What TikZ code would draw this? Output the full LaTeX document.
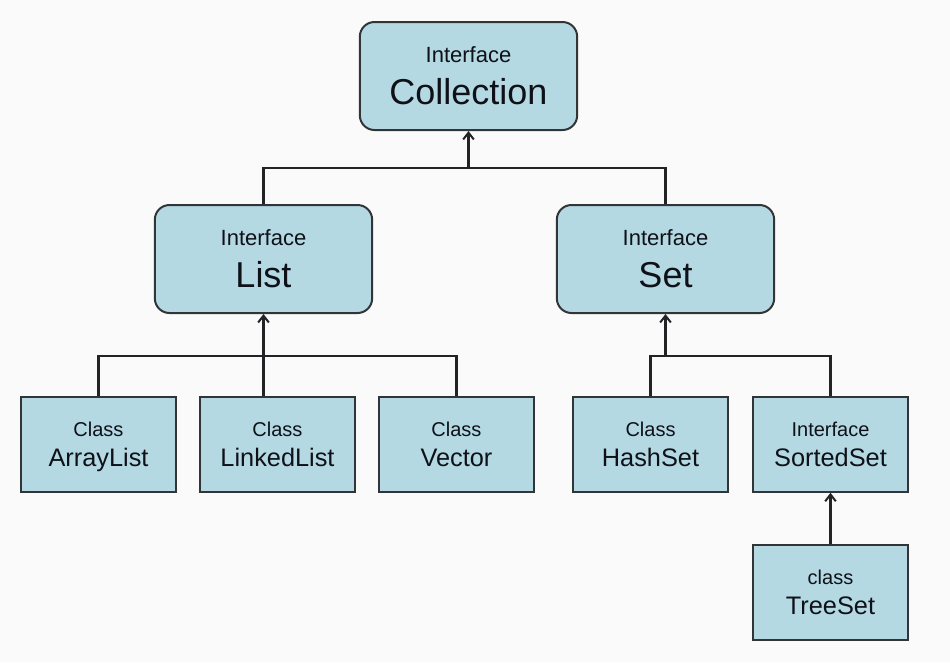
\documentclass[tikz,border=0pt]{standalone}
\usepackage{fontspec}
\setmainfont{Liberation Sans}
\usepackage{xcolor}
\definecolor{boxfill}{RGB}{180,217,226}
\definecolor{boxline}{RGB}{50,52,56}
\definecolor{wire}{RGB}{35,35,38}
\definecolor{pagebg}{RGB}{250,250,250}
\definecolor{txtdark}{RGB}{15,17,25}
\usetikzlibrary{arrows.meta}

\begin{document}
\begin{tikzpicture}[x=0.75pt,y=-0.75pt,
iface/.style={draw=boxline,line width=1.5pt,rounded corners=11pt,fill=boxfill,align=center,minimum width=163pt,minimum height=81pt,text depth=0.5pt,text=txtdark,font=\fontsize{27}{31}\selectfont},
cls/.style={draw=boxline,line width=1.5pt,fill=boxfill,align=center,minimum width=116pt,minimum height=71pt,text depth=0pt,text=txtdark,font=\fontsize{19}{22.5}\selectfont},
link/.style={draw=wire,line width=1.6pt},
arr/.style={-{Straight Barb[length=1.8mm,width=2.8mm,line width=1.5pt]},draw=wire,line width=1.6pt}]
\fill[pagebg] (0,0) rectangle (950,662);
\useasboundingbox (0,0) rectangle (950,662);
\node[iface] (coll) at (468.5,76) {{\fontsize{16.5}{18}\selectfont Interface}\\Collection};
\node[iface] (list) at (263.5,259) {{\fontsize{16.5}{18}\selectfont Interface}\\List};
\node[iface] (set)  at (665.5,259) {{\fontsize{16.5}{18}\selectfont Interface}\\Set};
\node[cls] (arraylist)  at (98.5,444.5)  {{\fontsize{15}{17}\selectfont Class}\\ArrayList};
\node[cls] (linkedlist) at (277.5,444.5) {{\fontsize{15}{17}\selectfont Class}\\LinkedList};
\node[cls] (vector)     at (456.5,444.5) {{\fontsize{15}{17}\selectfont Class}\\Vector};
\node[cls] (hashset)    at (650.5,444.5) {{\fontsize{15}{17}\selectfont Class}\\HashSet};
\node[cls] (sortedset)  at (830.5,444.5) {{\fontsize{15}{17}\selectfont Interface}\\SortedSet};
\node[cls] (treeset)    at (830.5,592.5) {{\fontsize{15}{17}\selectfont class}\\TreeSet};
% junctions
\coordinate (jtop)  at (468.5,168);
\coordinate (jlist) at (263.5,356);
\coordinate (jset)  at (665.5,356);
\draw[link] (list.north) |- (jtop) -| (set.north);
\draw[arr] (jtop) -- (coll.south);
\draw[link] (arraylist.north) |- (jlist) -| (vector.north);
\draw[arr] (list.south |- linkedlist.north) -- (list.south);
\draw[link] (hashset.north) |- (jset) -| (sortedset.north);
\draw[arr] (jset) -- (set.south);
\draw[arr] (treeset) -- (sortedset);
\end{tikzpicture}
\end{document}
